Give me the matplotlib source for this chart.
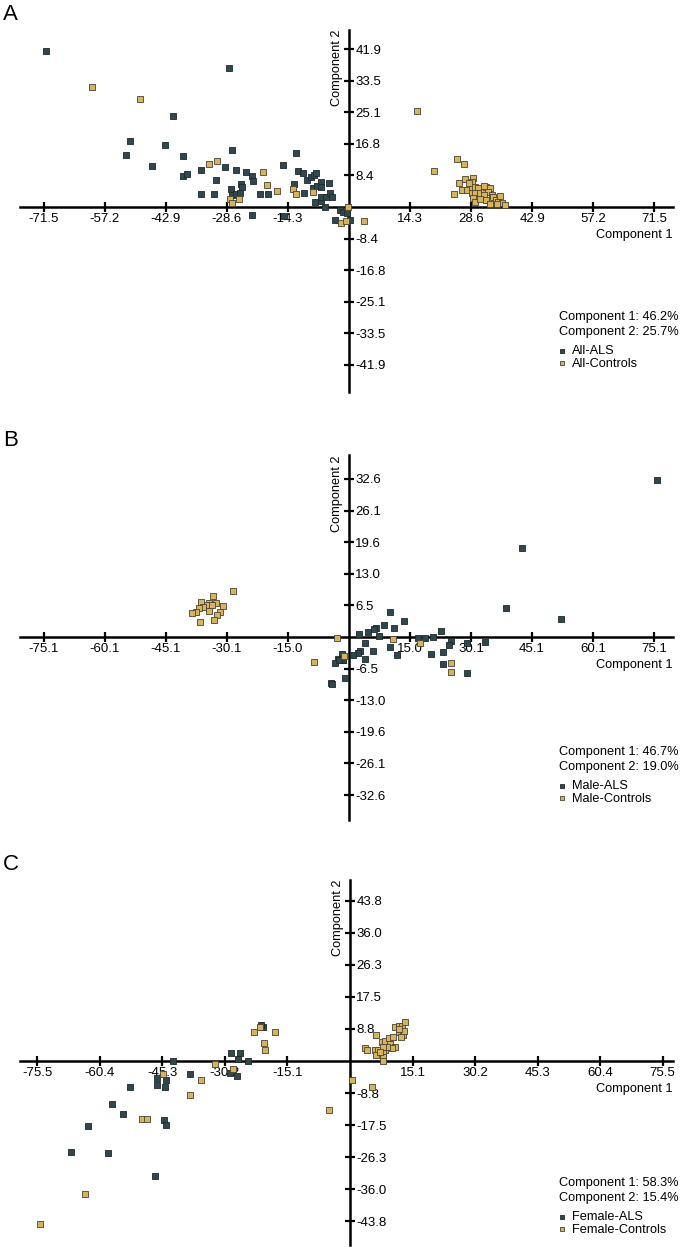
import matplotlib
matplotlib.use("Agg")
import matplotlib.pyplot as plt

plt.rcParams['font.family'] = ['Liberation Sans', 'DejaVu Sans']

W, H = 685, 1247
ALS_COLOR = '#2f474d'
CTL_COLOR = '#d6b35e'

# ---------------- panel A : all subjects
a_als_x = [-71.0, -28.2, -41.2, -51.2, -52.3, -43.1, -46.2, -38.9, -38.9, -37.9, -34.7, -34.6,
           -31.5, -31.1, -29.0, -27.3, -26.5, -24.1, -22.6, -22.5, -25.4, -25.0, -27.7, -27.3,
           -26.4, -25.5, -20.8, -19.0, -22.6, -15.4, -12.4, -12.9, -11.9, -10.8, -9.8, -8.8,
           -8.3, -7.7, -10.6, -8.5, -7.6, -6.6, -6.6, -4.8, -8.0, -6.6, -6.5, -5.4, -4.4,
           -4.0, -5.6, -15.2, -3.3, -2.1, -1.3, -0.4, 0.2]
a_als_y = [41.4, 37.0, 24.1, 17.4, 13.9, 16.5, 11.0, 13.6, 8.3, 8.7, 9.8, 3.4,
           3.4, 7.1, 10.7, 15.1, 9.8, 9.3, 8.3, 6.9, 6.1, 5.2, 4.8, 3.2,
           3.4, 3.8, 3.4, 3.5, -2.1, 11.1, 14.2, 6.0, 9.6, 9.1, 7.1, 8.0,
           8.6, 9.1, 3.8, 5.1, 5.6, 6.6, 5.4, 6.4, 1.3, 1.6, 2.6, 2.7, 3.6,
           2.7, 0.1, -2.4, -3.4, -0.8, -1.2, -1.6, -3.4]
a_ctl_x = [-60.1, -48.9, -32.9, -31.0, -20.1, -19.3, -16.9, -13.0, -12.4, -8.5, -27.9, -27.3,
           -25.7, -0.2, -1.9, -0.6, 3.4, 15.9, 19.8, 25.4, 26.9, 24.6, 25.8, 26.4,
           27.2, 27.6, 29.1, 28.9, 28.7, 29.5, 30.3, 28.7, 29.5, 30.7, 31.5, 32.2,
           33.0, 32.6, 31.5, 29.1, 29.4, 30.7, 32.1, 33.4, 33.8, 34.4, 35.4, 35.0,
           35.8, 33.0, 34.7, 36.5, 28.0, 31.6]
a_ctl_y = [31.9, 28.6, 11.5, 12.3, 9.2, 5.9, 4.2, 4.8, 3.4, 3.9, 2.2, 1.1,
           2.0, 0.1, -4.3, -3.7, -3.6, 25.5, 9.5, 12.7, 11.5, 3.4, 6.3, 4.6,
           7.3, 4.6, 7.6, 6.7, 5.4, 5.4, 5.0, 3.8, 3.6, 3.6, 4.5, 5.4,
           5.0, 4.1, 3.2, 2.3, 1.4, 2.0, 1.9, 3.2, 2.7, 1.9, 2.9, 1.4,
           1.1, 0.7, 0.7, 0.5, 6.4, 5.6]
a_xtick_pos = [-71.5, -57.2, -42.9, -28.6, -14.3, 14.3, 28.6, 42.9, 57.2, 71.5]
a_xtick_lab = ['-71.5', '-57.2', '-42.9', '-28.6', '-14.3', '14.3', '28.6', '42.9', '57.2', '71.5']
a_ytick_pos = [-41.9, -33.52, -25.14, -16.76, -8.38, 8.38, 16.76, 25.14, 33.52, 41.9]
a_ytick_lab = ['-41.9', '-33.5', '-25.1', '-16.8', '-8.4', '8.4', '16.8', '25.1', '33.5', '41.9']
a_text = ['Component 1: 46.2%', 'Component 2: 25.7%']
a_legend = ['All-ALS', 'All-Controls']

# ---------------- panel B : males
b_als_x = [10.1, 13.5, 8.6, 11.2, 6.6, 6.2, 4.8, 2.5, 7.5, 3.9, 10.1, 5.8,
           2.7, 2.2, 0.9, -1.8, -2.6, -1.6, -3.5, 3.9, 11.7, -0.9, -4.5, -4.3,
           16.9, 18.6, 20.6, 22.7, 25.2, 24.7, 23.1, 20.1, 23.2, 29.0, 33.6, 29.1,
           38.6, 42.5, 52.1, 75.9, -1.4, -2.4]
b_als_y = [5.1, 3.4, 2.4, 1.8, 1.9, 1.6, 1.0, 0.6, 0.2, -1.2, -2.0, -2.8,
           -2.8, -3.4, -3.8, -3.5, -4.5, -4.7, -5.3, -4.6, -3.8, -8.5, -9.4, -9.7,
           -0.3, -0.3, 0.1, 1.3, -0.8, -1.6, -3.1, -3.6, -5.6, -1.3, -1.1, -7.4,
           6.0, 18.3, 3.8, 32.3, -4.7, -4.7]
b_ctl_x = [-28.6, -33.6, -36.5, -34.4, -32.8, -34.9, -33.7, -31.0, -35.9, -37.0, -34.6, -31.8,
           -37.7, -38.7, -32.4, -36.7, -33.2, -3.0, -8.6, -1.3, 10.9, 17.5, 25.1, 25.0]
b_ctl_y = [9.5, 8.5, 7.3, 7.1, 7.1, 6.6, 6.5, 6.3, 6.1, 5.9, 5.4, 5.2,
           5.2, 4.9, 4.5, 3.0, 3.5, -0.3, -5.1, -3.9, -0.5, -1.2, -5.4, -7.2]
b_xtick_pos = [-75.15, -60.12, -45.09, -30.06, -15.03, 15.03, 30.06, 45.09, 60.12, 75.15]
b_xtick_lab = ['-75.1', '-60.1', '-45.1', '-30.1', '-15.0', '15.0', '30.1', '45.1', '60.1', '75.1']
b_ytick_pos = [-32.6, -26.08, -19.56, -13.04, -6.52, 6.52, 13.04, 19.56, 26.08, 32.6]
b_ytick_lab = ['-32.6', '-26.1', '-19.6', '-13.0', '-6.5', '6.5', '13.0', '19.6', '26.1', '32.6']
b_text = ['Component 1: 46.7%', 'Component 2: 19.0%']
b_legend = ['Male-ALS', 'Male-Controls']

# ---------------- panel C : females
c_als_x = [-42.7, -28.7, -26.5, -27.1, -24.6, -29.0, -27.3, -38.6, -46.5, -44.5, -46.5, -44.7,
           -53.1, -57.6, -54.8, -63.4, -45.0, -44.4, -67.4, -58.4, -47.2, -20.9, -21.6]
c_als_y = [0.1, 2.1, 2.1, 0.5, -0.1, -3.4, -4.1, -3.5, -4.7, -5.2, -6.6, -7.2,
           -7.1, -11.7, -14.4, -17.8, -16.1, -17.5, -24.9, -25.0, -31.3, 9.2, 9.8]
c_ctl_x = [-21.7, -23.2, -18.2, -20.7, -20.5, -32.7, -28.2, -45.2, -36.0, -38.6, -50.2, -49.0,
           -64.0, -74.9, -5.1, 0.5, 5.3,
           6.4, 3.6, 4.0, 6.0, 6.8, 8.5, 7.7, 8.5, 9.3, 10.3, 9.7, 10.9,
           10.1, 8.9, 7.9, 6.4, 8.0, 8.0, 8.0, 7.2, 10.9, 11.8, 12.6, 13.4,
           11.9, 12.7, 13.0, 12.3, 11.9]
c_ctl_y = [9.4, 7.8, 7.9, 4.8, 3.0, -0.9, -2.1, -3.6, -5.3, -9.3, -15.9, -15.8,
           -36.4, -44.6, -13.5, -5.2, -7.0,
           7.1, 3.6, 3.0, 3.0, 3.0, 3.0, 5.3, 5.5, 6.2, 6.5, 4.6, 3.9,
           3.5, 3.9, 3.9, 1.6, 2.1, 1.0, 0.1, 2.5, 9.2, 9.6, 9.6, 10.6,
           7.8, 7.1, 8.2, 6.5, 8.7]
c_xtick_pos = [-75.5, -60.4, -45.3, -30.2, -15.1, 15.1, 30.2, 45.3, 60.4, 75.5]
c_xtick_lab = ['-75.5', '-60.4', '-45.3', '-30.2', '-15.1', '15.1', '30.2', '45.3', '60.4', '75.5']
c_ytick_pos = [-43.8, -35.04, -26.28, -17.52, -8.76, 8.76, 17.52, 26.28, 35.04, 43.8]
c_ytick_lab = ['-43.8', '-36.0', '-26.3', '-17.5', '-8.8', '8.8', '17.5', '26.3', '36.0', '43.8']
c_text = ['Component 1: 58.3%', 'Component 2: 15.4%']
c_legend = ['Female-ALS', 'Female-Controls']

# pixel layout of each panel: axis top/bottom, origin and scale (px per unit)
layout = [
    dict(letter='A', top=30, bottom=392, ox=349, oy=207, sx=4.27, sy=3.77, leg_y=317),
    dict(letter='B', top=455, bottom=820, ox=349, oy=637, sx=4.06, sy=4.85, leg_y=752),
    dict(letter='C', top=880, bottom=1245, ox=350, oy=1061, sx=4.14, sy=3.66, leg_y=1183),
]
panels = [
    (a_als_x, a_als_y, a_ctl_x, a_ctl_y, a_xtick_pos, a_xtick_lab, a_ytick_pos, a_ytick_lab, a_text, a_legend),
    (b_als_x, b_als_y, b_ctl_x, b_ctl_y, b_xtick_pos, b_xtick_lab, b_ytick_pos, b_ytick_lab, b_text, b_legend),
    (c_als_x, c_als_y, c_ctl_x, c_ctl_y, c_xtick_pos, c_xtick_lab, c_ytick_pos, c_ytick_lab, c_text, c_legend),
]

fig = plt.figure(figsize=(W / 100, H / 100), dpi=100)
x_left, x_right = 20, 673
FS = 9.2

for lay, (ax_x, ax_y, ct_x, ct_y, xtp, xtl, ytp, ytl, txt, leg) in zip(layout, panels):
    ax = fig.add_axes([x_left / W, 1 - lay['bottom'] / H, (x_right - x_left) / W,
                       (lay['bottom'] - lay['top']) / H])
    ax.set_xlim((x_left - lay['ox']) / lay['sx'], (x_right - lay['ox']) / lay['sx'])
    ax.set_ylim((lay['oy'] - lay['bottom']) / lay['sy'], (lay['oy'] - lay['top']) / lay['sy'])
    ax.patch.set_visible(False)

    for s in ['top', 'left']:
        ax.spines[s].set_visible(False)
    ax.spines['bottom'].set_position(('data', 0))
    ax.spines['right'].set_position(('data', 0))
    for s in ['bottom', 'right']:
        ax.spines[s].set_linewidth(1.8)
    ax.yaxis.set_ticks_position('right')

    ax.set_xticks(xtp)
    ax.set_xticklabels(xtl)
    ax.set_yticks(ytp)
    ax.set_yticklabels(ytl)
    ax.tick_params(axis='x', direction='inout', length=7, width=1.6, pad=1, labelsize=FS + 0.3)
    ax.tick_params(axis='y', direction='inout', length=7, width=1.6, pad=1, labelsize=FS + 0.3,
                   labelright=True, labelleft=False)

    h1 = ax.scatter(ax_x, ax_y, marker='s', s=17, color=ALS_COLOR, edgecolors='#1c2a2e',
                    linewidths=0.6, zorder=3, label=leg[0])
    h2 = ax.scatter(ct_x, ct_y, marker='s', s=17, color=CTL_COLOR, edgecolors='#4a4232',
                    linewidths=0.6, zorder=3, label=leg[1])

    ax.annotate('Component 1', xy=(1, 0), xycoords=('axes fraction', 'data'),
                xytext=(0, -20), textcoords='offset points', ha='right', va='center', fontsize=FS)
    ax.annotate('Component 2', xy=(0, 1), xycoords=('data', 'axes fraction'),
                xytext=(-4, 0), textcoords='offset points', ha='right', va='top',
                rotation=90, fontsize=FS)

    fig.text(3 / W, 1 - (lay['top'] - 15) / H, lay['letter'], fontsize=16, va='center', ha='left')

    fig.text(559 / W, 1 - lay['leg_y'] / H, txt[0], fontsize=FS, va='center')
    fig.text(559 / W, 1 - (lay['leg_y'] + 15) / H, txt[1], fontsize=FS, va='center')
    ax.legend(handles=[h1, h2], loc='upper left',
              bbox_to_anchor=(557 / W, 1 - (lay['leg_y'] + 28) / H), bbox_transform=fig.transFigure,
              frameon=False, fontsize=FS, handlelength=0.8, handletextpad=0.4,
              labelspacing=0.05, borderpad=0, borderaxespad=0, markerscale=0.6)

fig.savefig('out.png', dpi=100)
